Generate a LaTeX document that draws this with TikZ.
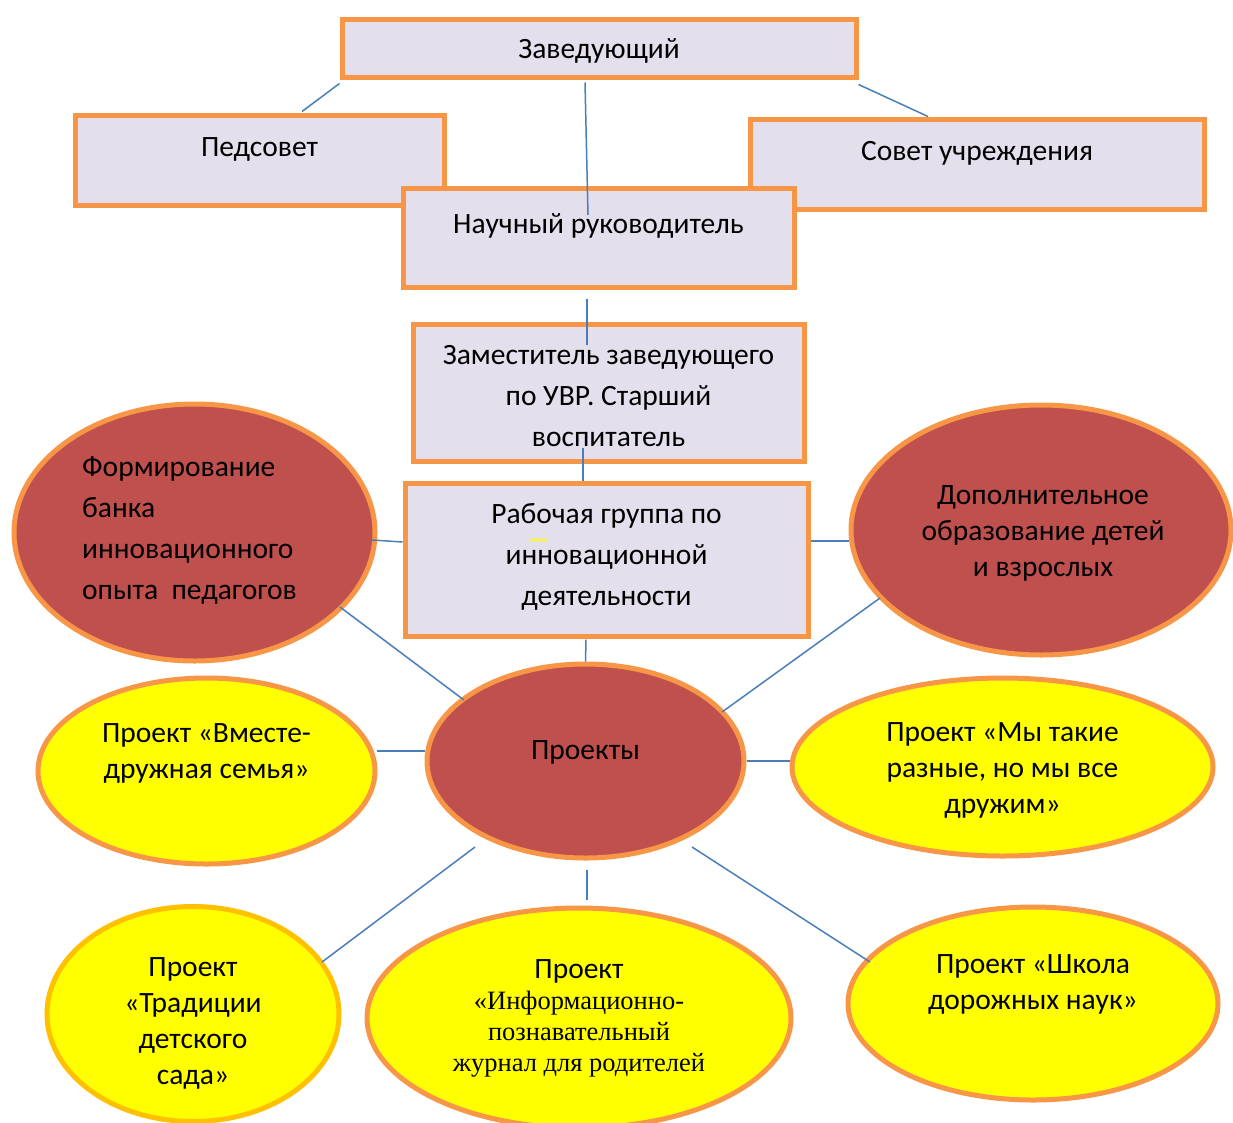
\documentclass[tikz,border=0pt]{standalone}
\usepackage{fontspec}
\setmainfont{Carlito}
\newfontfamily\serifru{Liberation Serif}
\usetikzlibrary{shapes.geometric,calc}

\definecolor{frameorange}{HTML}{F79646}
\definecolor{framegold}{HTML}{FFC000}
\definecolor{boxlilac}{HTML}{E4DFEC}
\definecolor{ovalred}{HTML}{C0504D}
\definecolor{ovalyellow}{HTML}{FFFF00}
\definecolor{linkblue}{HTML}{4A7EBB}

\tikzset{
  box/.style={rectangle, draw=frameorange, line width=5pt, fill=boxlilac,
    inner sep=0pt, align=center, font=\fontsize{29.5}{41}\selectfont},
  redoval/.style={ellipse, draw=frameorange, line width=5pt, fill=ovalred,
    inner sep=0pt, align=center, font=\fontsize{29.5}{36}\selectfont},
  yeloval/.style={ellipse, draw=frameorange, line width=5pt, fill=ovalyellow,
    inner sep=0pt, align=center, font=\fontsize{29.5}{36}\selectfont},
  boxtxt/.style={inner sep=0pt, align=center, font=\fontsize{29.5}{41}\selectfont},
  ovaltxt/.style={inner sep=0pt, align=center, font=\fontsize{29.5}{36}\selectfont},
  link/.style={draw=linkblue, line width=1.5pt},
}

\begin{document}
\begin{tikzpicture}[x=1pt,y=-1pt]
  \useasboundingbox (0,0) rectangle (1233,1122);
  \clip (0,0) rectangle (1233,1122);

  % management boxes
  \node[box, minimum width=514pt, minimum height=58pt,
        label={[boxtxt,yshift=-3pt]center:Заведующий}] (zav) at (599,48) {};
  \node[box, minimum width=369pt, minimum height=90pt,
        label={[boxtxt,yshift=11pt]center:Педсовет}] (ped) at (259.5,160) {};
  \node[box, minimum width=454pt, minimum height=90pt,
        label={[boxtxt,yshift=11pt]center:Совет учреждения}] (sov) at (977,164) {};
  \node[box, minimum width=391pt, minimum height=99pt,
        label={[boxtxt,yshift=12pt]center:Научный руководитель}] (nauch) at (598.5,237.5) {};
  \node[box, minimum width=391pt, minimum height=137pt,
        label={[boxtxt,yshift=-3pt]center:Заместитель заведующего\\по УВР. Старший\\воспитатель}] (zam) at (608.5,393) {};
  \node[box, minimum width=403pt, minimum height=153pt,
        label={[boxtxt,yshift=3pt]center:Рабочая группа по\\инновационной\\деятельности}] (rab) at (606.5,559.5) {};
  \draw[ovalyellow, line width=1.5pt] ($(rab.center)+(-78,-19.5)$) -- +(18,0);

  % red ovals
  \node[redoval, minimum width=361pt, minimum height=257pt,
        label={[boxtxt,align=left,xshift=-5pt,yshift=2pt]center:Формирование\\банка\\инновационного\\опыта\ \ педагогов}]
        (form) at (194.5,532.5) {};
  \node[redoval, minimum width=380pt, minimum height=250pt,
        label={[ovaltxt,xshift=2pt,yshift=-3pt]center:Дополнительное\\образование детей\\и взрослых}] (dop) at (1041,530) {};
  \node[redoval, minimum width=317pt, minimum height=194pt,
        label={[ovaltxt,yshift=9pt]center:Проекты}] (proj) at (585.5,761) {};

  % project ovals
  \node[yeloval, minimum width=337pt, minimum height=186pt,
        label={[ovaltxt,yshift=18pt]center:Проект «Вместе-\\дружная семья»}] (vm) at (206.5,771) {};
  \node[yeloval, minimum width=421pt, minimum height=178pt,
        label={[ovaltxt,yshift=-3pt]center:Проект «Мы такие\\разные, но мы все\\дружим»}] (my) at (1002.5,767) {};
  \node[yeloval, draw=framegold, minimum width=292pt, minimum height=215pt,
        label={[ovaltxt,yshift=-9pt]center:Проект\\«Традиции\\детского\\сада»}] (trad) at (193,1014) {};
  \node[yeloval, minimum width=424pt, minimum height=220pt,
        font=\serifru\fontsize{26.5}{31}\selectfont] (inf) at (579,1018)
    {{\rmfamily\fontsize{29.5}{31}\selectfont Проект}\\«Информационно-\\познавательный\\журнал для родителей};
  \node[yeloval, minimum width=370pt, minimum height=193pt,
        label={[ovaltxt,yshift=19pt]center:Проект «Школа\\дорожных наук»}] (shk) at (1033,1003.5) {};

  % connectors
  \draw[link] ($(zav.south west)+(0,4)$) -- ($(ped.north)+(42.5,-1)$);
  \draw[link] ($(zav.south east)+(0,5)$) -- ($(sov.north)+(-49,0)$);
  \draw[link] ($(zav.south)+(-14,3)$) -- ($(nauch.center)+(-10.5,-22.5)$);
  \draw[link] ($(nauch.south)+(-11.5,9)$) -- ($(zam.north)+(-21.5,23)$);
  \draw[link] ($(zam.south)+(-25.5,-16)$) -- ($(rab.north)+(-23.5,0)$);
  \draw[link] ($(form.center)+(177.5,7.5)$) -- ($(rab.west)+(0,-17.5)$);
  \draw[link] ($(rab.east)+(0,-18.5)$) -- ($(dop.center)+(-192,11)$);
  \draw[link] ($(rab.south)+(-20.5,1)$) -- (proj.north);
  \draw[link] ($(form.center)+(145.5,74.5)$) -- ($(proj.center)+(-121.5,-61)$);
  \draw[link] ($(dop.center)+(-161,68)$) -- ($(proj.center)+(136.5,-49)$);
  \draw[link] ($(vm.center)+(170.5,-20)$) -- ($(proj.center)+(-160.5,-10)$);
  \draw[link] (proj.east) -- (proj.east -| my.west);
  \draw[link] ($(proj.center)+(-110.5,86)$) -- ($(trad.center)+(129,-52)$);
  \draw[link] ($(proj.center)+(1.5,109)$) -- ($(inf.center)+(8,-118)$);
  \draw[link] ($(proj.center)+(106.5,86)$) -- ($(shk.center)+(-163,-41.5)$);
\end{tikzpicture}
\end{document}
